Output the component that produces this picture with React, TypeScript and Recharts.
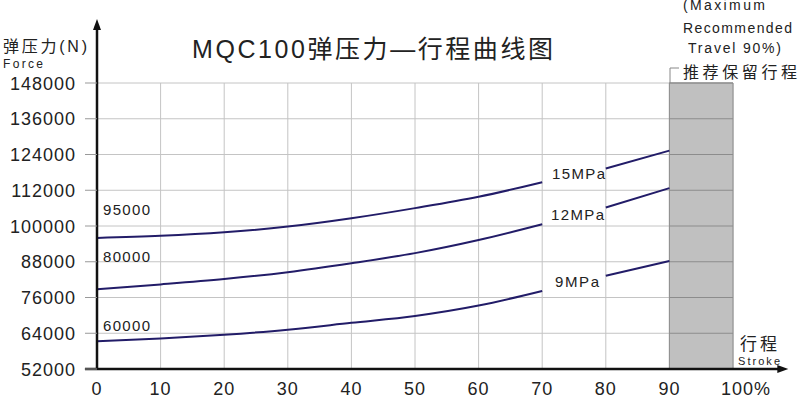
import {
  LineChart,
  Line,
  XAxis,
  YAxis,
  CartesianGrid,
  ReferenceArea,
  ReferenceLine,
  ReferenceDot
} from 'recharts';

// stroke (%) and force (N) per pressure curve; null leaves the gap for the label
const stroke = [0, 10, 20, 30, 40, 50, 60, 70, 75, 80, 90];
const p15 = [96000, 96700, 97900, 99800, 102600, 106000, 109800, 114700, null, 119300, 125300];
const p12 = [78800, 80400, 82200, 84500, 87500, 90900, 95300, 100600, null, 106200, 112700];
const p9 = [61300, 62200, 63500, 65200, 67500, 69800, 73300, 78200, null, 83300, 88250];

const xTicks = [0, 10, 20, 30, 40, 50, 60, 70, 80, 90, 100];
const yTicks = [52000, 64000, 76000, 88000, 100000, 112000, 124000, 136000, 148000];

const data = stroke.map((s, i) => ({ s, p15: p15[i], p12: p12[i], p9: p9[i] }));

const font = '"Liberation Sans", Arial, "Noto Sans CJK SC", sans-serif';
const curve = '#221c68';

const XTick = (props: any) => {
  const v = props.payload.value;
  return (
    <text x={props.x + (v === 100 ? 13 : 0)} y={props.y} dy={26} textAnchor="middle"
      fontSize={18} letterSpacing={1} fill="#222" fontFamily={font}>
      {v === 100 ? '100%' : v}
    </text>
  );
};

const YTick = (props: any) => (
  <text x={props.x} y={props.y} dy={6.5} textAnchor="end"
    fontSize={18} letterSpacing={1} fill="#222" fontFamily={font}>
    {props.payload.value}
  </text>
);

export default function App() {
  return (
    <div style={{ position: 'absolute', left: 0, top: 0, width: 800, height: 398, background: '#fff' }}>
      <LineChart width={800} height={398} data={data}
        margin={{ top: 83, right: 67, bottom: 0, left: 0 }}>
        <CartesianGrid stroke="#c4c4c4" strokeWidth={1} />
        <ReferenceArea x1={90} x2={100} y1={52000} y2={148000}
          fill="#c0c0c0" fillOpacity={1} stroke="#8c8c8c" ifOverflow="visible" />
        {yTicks.map(t => (
          <ReferenceLine key={t} segment={[{ x: 90, y: t }, { x: 100, y: t }]}
            stroke="#8c8c8c" ifOverflow="visible" />
        ))}
        <XAxis dataKey="s" type="number" domain={[0, 100]} ticks={xTicks}
          axisLine={false} tickLine={false} tickSize={0} tickMargin={0}
          height={29} tick={<XTick />} interval={0} />
        <YAxis type="number" domain={[52000, 148000]} ticks={yTicks}
          axisLine={false} tickLine={{ stroke: '#999' }} tickSize={12} tickMargin={9}
          width={97} tick={<YTick />} interval={0} />
        <Line dataKey="p15" type="monotone" stroke={curve} strokeWidth={2} dot={false} isAnimationActive={false} />
        <Line dataKey="p12" type="monotone" stroke={curve} strokeWidth={2} dot={false} isAnimationActive={false} />
        <Line dataKey="p9" type="monotone" stroke={curve} strokeWidth={2} dot={false} isAnimationActive={false} />
        {/* axes with arrows */}
        <ReferenceLine segment={[{ x: 0, y: 52000 }, { x: 0, y: 167000 }]}
          stroke="#111" strokeWidth={2.5} ifOverflow="visible" />
        <ReferenceLine segment={[{ x: -1.9, y: 52000 }, { x: 107.5, y: 52000 }]}
          stroke="#111" strokeWidth={2.5} ifOverflow="visible" />
        <ReferenceDot x={0} y={169500} ifOverflow="visible"
          shape={(p: any) => <path d={`M${p.cx},${p.cy} l-4,11 l8,0 z`} fill="#111" />} />
        <ReferenceDot x={108.7} y={52000} ifOverflow="visible"
          shape={(p: any) => <path d={`M${p.cx},${p.cy} l-11,-4 l0,8 z`} fill="#111" />} />
      </LineChart>
      <svg width={800} height={398} style={{ position: 'absolute', left: 0, top: 0, pointerEvents: 'none' }}
        fontFamily={font} fill="#222">
        <text x={192} y={58} fontSize={25} textLength={361} lengthAdjust="spacing">MQC100弹压力—行程曲线图</text>
        <text x={3} y={52} fontSize={16} textLength={84} lengthAdjust="spacing">弹压力(N)</text>
        <text x={3} y={68} fontSize={12} textLength={40} lengthAdjust="spacing">Force</text>
        <text x={740} y={350} fontSize={17} textLength={37} lengthAdjust="spacing">行程</text>
        <text x={738} y={365} fontSize={11} textLength={42} lengthAdjust="spacing">Stroke</text>
        <text x={683} y={10} fontSize={14} textLength={82} lengthAdjust="spacing">(Maximum</text>
        <text x={683} y={33} fontSize={14} textLength={109} lengthAdjust="spacing">Recommended</text>
        <text x={688} y={53} fontSize={14} textLength={93} lengthAdjust="spacing">Travel 90%)</text>
        <text x={683} y={78} fontSize={16} textLength={114} lengthAdjust="spacing">推荐保留行程</text>
        <path d="M679,68 L670,68 L670,83" stroke="#888" fill="none" strokeWidth={1} />
        <text x={103} y={215} fontSize={15} textLength={47} lengthAdjust="spacing">95000</text>
        <text x={103} y={262} fontSize={15} textLength={47} lengthAdjust="spacing">80000</text>
        <text x={103} y={331} fontSize={15} textLength={47} lengthAdjust="spacing">60000</text>
        <text x={552} y={179} fontSize={15} textLength={53} lengthAdjust="spacing">15MPa</text>
        <text x={551} y={220} fontSize={15} textLength={53} lengthAdjust="spacing">12MPa</text>
        <text x={555} y={287} fontSize={15} textLength={44} lengthAdjust="spacing">9MPa</text>
      </svg>
    </div>
  );
}
